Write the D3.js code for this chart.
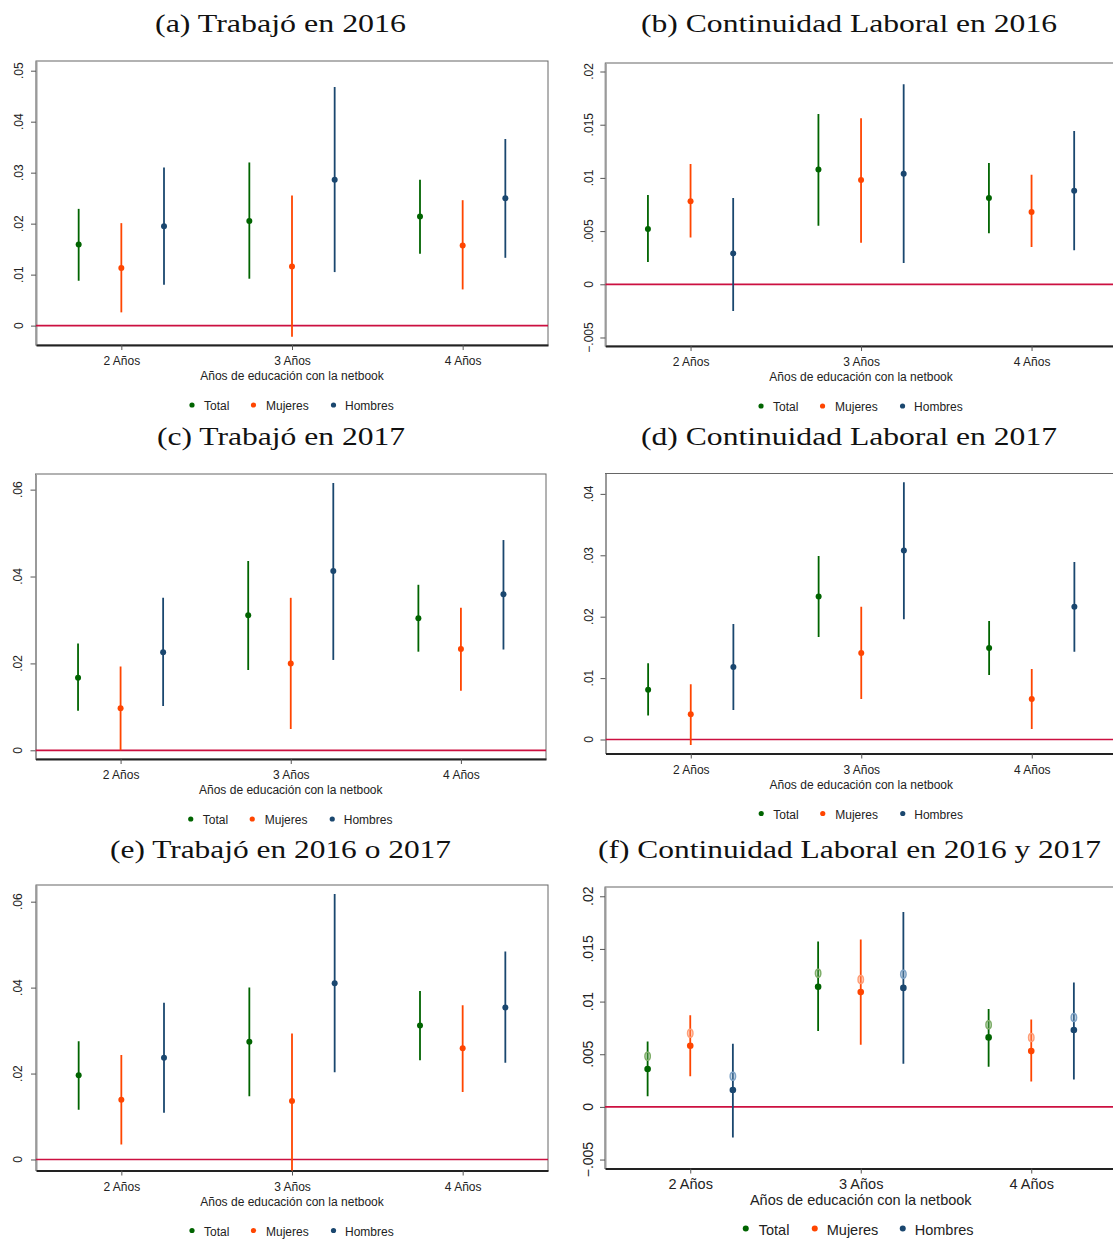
<!DOCTYPE html>
<html>
<head>
<meta charset="utf-8">
<script src="https://cdn.jsdelivr.net/npm/d3@7"></script>
<style>
  html, body { margin: 0; padding: 0; background: #fff; }
  svg { display: block; }
</style>
</head>
<body>
<svg id="chart" width="1113" height="1240"></svg>
<script>
// ---------------- DATA ----------------
const categories = ["2 Años", "3 Años", "4 Años"];
const categoryValues = [2, 3, 4];
const seriesNames = ["Total", "Mujeres", "Hombres"];
const xAxisTitle = "Años de educación con la netbook";

// each row = category (2,3,4 años); columns = Total, Mujeres, Hombres
const a_est = [[0.0159, 0.0113, 0.0195], [0.0205, 0.0116, 0.0286], [0.0214, 0.0157, 0.0250]];
const a_lo  = [[0.0088, 0.0026, 0.0080], [0.0092, -0.0022, 0.0105], [0.0141, 0.0071, 0.0133]];
const a_hi  = [[0.0229, 0.0201, 0.0310], [0.0320, 0.0255, 0.0468], [0.0286, 0.0246, 0.0366]];
const a_ticks = [0, 0.01, 0.02, 0.03, 0.04, 0.05];

const b_est = [[0.0052, 0.0078, 0.0029], [0.0108, 0.0098, 0.0104], [0.0081, 0.0068, 0.0088]];
const b_lo  = [[0.0021, 0.0044, -0.0025], [0.0055, 0.0039, 0.0020], [0.0048, 0.0035, 0.0032]];
const b_hi  = [[0.0084, 0.0113, 0.0081], [0.0160, 0.0156, 0.0188], [0.0114, 0.0103, 0.0144]];
const b_ticks = [-0.005, 0, 0.005, 0.01, 0.015, 0.02];

const c_est = [[0.0167, 0.0097, 0.0226], [0.0311, 0.0200, 0.0413], [0.0304, 0.0233, 0.0359]];
const c_lo  = [[0.0091, 0.0000, 0.0102], [0.0185, 0.0049, 0.0208], [0.0227, 0.0137, 0.0232]];
const c_hi  = [[0.0246, 0.0193, 0.0351], [0.0436, 0.0351, 0.0615], [0.0381, 0.0328, 0.0484]];
const c_ticks = [0, 0.02, 0.04, 0.06];

const d_est = [[0.0081, 0.0041, 0.0118], [0.0233, 0.0141, 0.0308], [0.0149, 0.0066, 0.0216]];
const d_lo  = [[0.0039, -0.0009, 0.0048], [0.0167, 0.0066, 0.0196], [0.0105, 0.0017, 0.0143]];
const d_hi  = [[0.0124, 0.0090, 0.0188], [0.0299, 0.0216, 0.0419], [0.0193, 0.0115, 0.0289]];
const d_ticks = [0, 0.01, 0.02, 0.03, 0.04];

const e_est = [[0.0196, 0.0139, 0.0237], [0.0274, 0.0136, 0.0410], [0.0312, 0.0259, 0.0354]];
const e_lo  = [[0.0116, 0.0035, 0.0109], [0.0147, -0.0030, 0.0203], [0.0231, 0.0157, 0.0225]];
const e_hi  = [[0.0275, 0.0243, 0.0365], [0.0400, 0.0293, 0.0618], [0.0392, 0.0359, 0.0484]];
const e_ticks = [0, 0.02, 0.04, 0.06];

const f_est = [[0.0036, 0.0058, 0.0016], [0.0114, 0.0109, 0.0113], [0.0066, 0.0053, 0.0073]];
const f_lo  = [[0.0010, 0.0029, -0.0029], [0.0072, 0.0059, 0.0041], [0.0038, 0.0024, 0.0026]];
const f_hi  = [[0.0062, 0.0087, 0.0060], [0.0157, 0.0159, 0.0185], [0.0093, 0.0083, 0.0118]];
const f_alt = [[0.0048, 0.0070, 0.0029], [0.0127, 0.0121, 0.0126], [0.0078, 0.0066, 0.0085]];
const f_ticks = [-0.005, 0, 0.005, 0.01, 0.015, 0.02];

// ---------------- STYLE / LAYOUT ----------------
const colors = ["#006400", "#ff4500", "#1a476f"];
const lightColors = ["#7fae6a", "#ff9f78", "#7fa3c6"];
const seriesOffset = [-0.25, 0, 0.25];

const panels = [
  {key: "a", title: "(a) Trabajó en 2016", tx: 280.5, ty: 32, tw: 251,
   left: 36, right: 548, top: 61, bottom: 345, yDom: [-0.0038, 0.0519],
   est: a_est, lo: a_lo, hi: a_hi, ticks: a_ticks, labX: 18.5, big: false},
  {key: "b", title: "(b) Continuidad Laboral en 2016", tx: 849, ty: 32, tw: 416,
   left: 605.3, right: 1116.8, top: 63, bottom: 346, yDom: [-0.0058, 0.0208],
   est: b_est, lo: b_lo, hi: b_hi, ticks: b_ticks, labX: 588.5, big: false},
  {key: "c", title: "(c) Trabajó en 2017", tx: 281, ty: 445, tw: 248,
   left: 35.5, right: 546, top: 474, bottom: 759, yDom: [-0.0020, 0.0636],
   est: c_est, lo: c_lo, hi: c_hi, ticks: c_ticks, labX: 17.5, big: false},
  {key: "d", title: "(d) Continuidad Laboral en 2017", tx: 849, ty: 445, tw: 416,
   left: 605.5, right: 1117, top: 473.5, bottom: 753.5, yDom: [-0.00228, 0.04332],
   est: d_est, lo: d_lo, hi: d_hi, ticks: d_ticks, labX: 588.5, big: false},
  {key: "e", title: "(e) Trabajó en 2016 o 2017", tx: 280.5, ty: 858, tw: 341,
   left: 36, right: 548, top: 885, bottom: 1170.5, yDom: [-0.00256, 0.06388],
   est: e_est, lo: e_lo, hi: e_hi, ticks: e_ticks, labX: 18, big: false},
  {key: "f", title: "(f) Continuidad Laboral en 2016 y 2017", tx: 849.5, ty: 858, tw: 503,
   left: 605, right: 1116.5, top: 887, bottom: 1168.5, yDom: [-0.00585, 0.02088],
   est: f_est, lo: f_lo, hi: f_hi, alt: f_alt, ticks: f_ticks, labX: 588, big: true}
];

const fmtTick = v => {
  if (v === 0) return "0";
  return d3.format("")(+v.toPrecision(6)).replace("0.", ".");
};

const svg = d3.select("#chart");
const sans = "'Liberation Sans', Arial, Helvetica, sans-serif";
const serif = "'Liberation Serif', 'Times New Roman', serif";

panels.forEach(p => {
  const g = svg.append("g").attr("class", "panel-" + p.key);
  const x = d3.scaleLinear().domain([1.5, 4.5]).range([p.left, p.right]);
  const y = d3.scaleLinear().domain(p.yDom).range([p.bottom, p.top]);
  const fs = p.big ? 14.5 : 12;
  const yfs = p.big ? 14 : 12;

  // title
  g.append("text")
    .attr("x", p.tx).attr("y", p.ty)
    .attr("text-anchor", "middle")
    .attr("font-family", serif).attr("font-size", 26)
    .attr("textLength", p.tw).attr("lengthAdjust", "spacingAndGlyphs")
    .attr("fill", "#111")
    .text(p.title);

  // frame
  g.append("rect")
    .attr("x", p.left).attr("y", p.top)
    .attr("width", p.right - p.left).attr("height", p.bottom - p.top)
    .attr("fill", "none").attr("stroke", "#666").attr("stroke-width", 1);

  const clipId = "clip-" + p.key;
  svg.append("clipPath").attr("id", clipId)
    .append("rect")
    .attr("x", p.left).attr("y", p.top)
    .attr("width", p.right - p.left).attr("height", p.bottom - p.top);

  // y axis
  const yAxis = d3.axisLeft(y).tickValues(p.ticks).tickSize(5).tickSizeOuter(0).tickFormat("");
  const ya = g.append("g").attr("transform", `translate(${p.left},0)`).call(yAxis);
  ya.select(".domain").attr("stroke", "#9a9a9a").attr("stroke-width", 2);
  ya.selectAll(".tick line").attr("stroke", "#555").attr("stroke-width", 1);
  // rotated y tick labels
  g.selectAll(".ylab").data(p.ticks).enter().append("text")
    .attr("transform", d => `translate(${p.labX},${y(d)}) rotate(-90)`)
    .attr("text-anchor", "middle").attr("dominant-baseline", "central")
    .attr("font-family", sans).attr("font-size", yfs).attr("fill", "#222")
    .text(fmtTick);

  // x axis
  const xAxis = d3.axisBottom(x).tickValues(categoryValues).tickSize(5).tickSizeOuter(0)
    .tickFormat((d, i) => categories[i]);
  const xa = g.append("g").attr("transform", `translate(0,${p.bottom})`).call(xAxis);
  xa.select(".domain").attr("stroke", "#222").attr("stroke-width", 2);
  xa.selectAll(".tick line").attr("stroke", "#555").attr("stroke-width", 1);
  xa.selectAll(".tick text")
    .attr("font-family", sans).attr("font-size", fs).attr("fill", "#222")
    .attr("y", p.big ? 10 : 11.5).attr("dy", "0.71em");

  // x axis title
  const cx = x(3);
  g.append("text")
    .attr("x", cx).attr("y", p.bottom + (p.big ? 31.5 : 31))
    .attr("text-anchor", "middle").attr("dominant-baseline", "central")
    .attr("font-family", sans).attr("font-size", fs).attr("fill", "#222")
    .text(xAxisTitle);

  const plot = g.append("g").attr("clip-path", `url(#${clipId})`);

  // zero line
  plot.append("line")
    .attr("x1", p.left).attr("x2", p.right)
    .attr("y1", y(0)).attr("y2", y(0))
    .attr("stroke", "#cc1040").attr("stroke-width", 1.7);

  // error bars and points
  const pts = [];
  categoryValues.forEach((cv, ci) => {
    seriesNames.forEach((s, si) => {
      pts.push({cx: cv + seriesOffset[si], si,
        est: p.est[ci][si], lo: p.lo[ci][si], hi: p.hi[ci][si],
        alt: p.alt ? p.alt[ci][si] : null});
    });
  });

  plot.selectAll(".bar").data(pts).enter().append("line")
    .attr("x1", d => x(d.cx)).attr("x2", d => x(d.cx))
    .attr("y1", d => y(d.lo)).attr("y2", d => y(d.hi))
    .attr("stroke", d => colors[d.si]).attr("stroke-width", 1.8);

  if (p.alt) {
    plot.selectAll(".alt").data(pts).enter().append("ellipse")
      .attr("cx", d => x(d.cx)).attr("cy", d => y(d.alt))
      .attr("rx", 2.7).attr("ry", 4)
      .attr("fill", d => lightColors[d.si]).attr("fill-opacity", 0.35)
      .attr("stroke", d => lightColors[d.si]).attr("stroke-width", 1.5);
  }

  plot.selectAll(".pt").data(pts).enter().append("circle")
    .attr("cx", d => x(d.cx)).attr("cy", d => y(d.est))
    .attr("r", p.big ? 3.3 : 3)
    .attr("fill", d => colors[d.si]);

  // legend
  const ly = p.bottom + 61;
  const dotOff = p.big ? [-115, -46, 42] : [-100, -38.5, 41.5];
  const txtOff = p.big ? [-102, -34, 54] : [-88, -26, 53];
  seriesNames.forEach((s, si) => {
    g.append("circle")
      .attr("cx", cx + dotOff[si]).attr("cy", ly - 1)
      .attr("r", p.big ? 3 : 2.6).attr("fill", colors[si]);
    g.append("text")
      .attr("x", cx + txtOff[si]).attr("y", ly)
      .attr("dominant-baseline", "central")
      .attr("font-family", sans).attr("font-size", fs).attr("fill", "#222")
      .text(s);
  });
});
</script>
</body>
</html>
